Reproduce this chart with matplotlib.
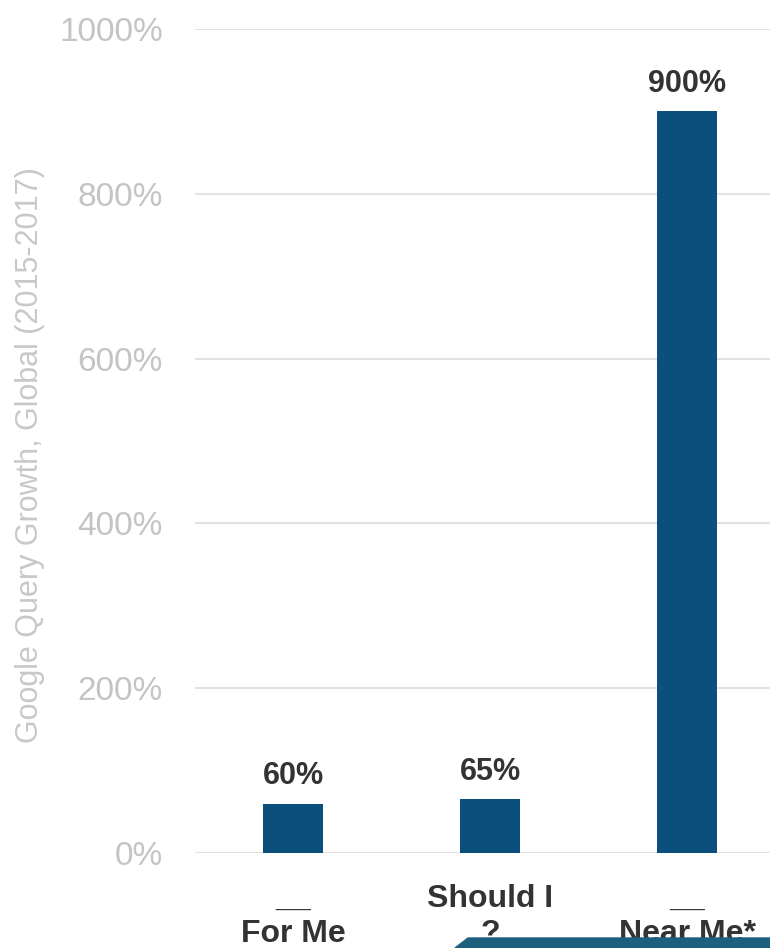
import matplotlib.pyplot as plt
from matplotlib.patches import Polygon

plt.rcParams['font.family'] = ['Liberation Sans', 'DejaVu Sans']

categories = ['__\nFor Me', 'Should I\n?', '__\nNear Me*']
growth = [60, 65, 900]
value_labels = ['60%', '65%', '900%']
yticks = [0, 200, 400, 600, 800, 1000]

bar_color = '#0b4f7c'
grid_color = '#e2e2e2'
tick_color = '#c4c4c4'
text_color = '#333333'

fig = plt.figure(figsize=(7.7, 9.48), dpi=100)
# axes runs a little past the right edge, the source is cropped there
ax = fig.add_axes([195 / 770, 1 - 853 / 948, 590.5 / 770, 824 / 948])

x = range(len(categories))
bars = ax.bar(x, growth, width=0.305, color=bar_color, zorder=3)
for b, lab in zip(bars, value_labels):
    ax.annotate(lab, (b.get_x() + b.get_width() / 2, b.get_height()),
                xytext=(0, 9), textcoords='offset points',
                ha='center', va='bottom', fontsize=22, fontweight='bold',
                color=text_color)

ax.set_xlim(-0.5, 2.5)
ax.set_ylim(0, 1000)
ax.set_yticks(yticks)
ax.set_yticklabels([f'{t}%' for t in yticks], fontsize=24, color=tick_color)
ax.set_xticks(list(x))
ax.set_xticklabels(categories, fontsize=23, fontweight='bold', color=text_color,
                   linespacing=1.25)
ax.tick_params(axis='y', length=0, pad=23)
ax.tick_params(axis='x', length=0, pad=22)
ax.yaxis.grid(True, color=grid_color, linewidth=1.5, zorder=0)
ax.set_axisbelow(True)
for s in ax.spines.values():
    s.set_visible(False)

fig.text(30 / 770, 1 - 455 / 948, 'Google Query Growth, Global (2015-2017)',
         rotation=90, ha='center', va='center', fontsize=22, color='#c8c8c8')

# teal banner peeking in at the bottom
fig.patches.append(Polygon([(455 / 770, 0), (468 / 770, 10 / 948), (1, 10 / 948), (1, 0)],
                           closed=True, transform=fig.transFigure,
                           color='#1d5f7e', zorder=5))

fig.savefig('out.png', dpi=100)
